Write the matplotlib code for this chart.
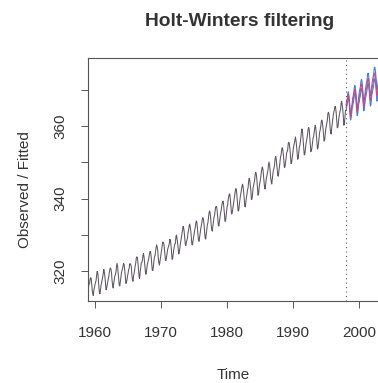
import numpy as np
import matplotlib
matplotlib.use("Agg")
import matplotlib.pyplot as plt

# Monthly CO2 observations (ppm), Jan 1959 .. Dec 1997
observed = [
    315.42, 316.31, 316.50, 317.56, 318.13, 318.00, 316.39, 314.65, 313.68, 313.18, 314.66, 315.43,
    316.27, 316.81, 317.42, 318.87, 319.87, 319.43, 318.01, 315.74, 314.00, 313.68, 314.84, 316.03,
    316.73, 317.54, 318.38, 319.31, 320.42, 319.61, 318.42, 316.63, 314.83, 315.16, 315.94, 316.85,
    317.78, 318.40, 319.53, 320.42, 320.85, 320.45, 319.45, 317.25, 316.11, 315.27, 316.53, 317.53,
    318.58, 318.92, 319.70, 321.22, 322.08, 321.31, 319.58, 317.61, 316.05, 315.83, 316.91, 318.20,
    319.41, 320.07, 320.74, 321.40, 322.06, 321.73, 320.27, 318.54, 316.54, 316.71, 317.53, 318.55,
    319.27, 320.28, 320.73, 321.97, 322.00, 321.71, 321.05, 318.71, 317.66, 317.14, 318.70, 319.25,
    320.46, 321.43, 322.23, 323.54, 323.91, 323.59, 322.24, 320.20, 318.48, 317.94, 319.63, 320.87,
    322.17, 322.34, 322.88, 324.25, 324.83, 323.93, 322.38, 320.76, 319.10, 319.24, 320.56, 321.80,
    322.40, 322.99, 323.73, 324.86, 325.40, 325.20, 323.98, 321.95, 320.18, 320.09, 321.16, 322.74,
    323.83, 324.26, 325.47, 326.50, 327.21, 326.54, 325.72, 323.50, 322.22, 321.62, 322.69, 323.95,
    324.89, 325.82, 326.77, 327.97, 327.91, 327.50, 326.18, 324.53, 322.93, 322.90, 323.85, 324.96,
    326.01, 326.51, 327.01, 327.62, 328.76, 328.40, 327.20, 325.27, 323.20, 323.40, 324.63, 325.85,
    326.60, 327.47, 327.58, 329.56, 329.90, 328.92, 327.88, 326.16, 324.68, 325.04, 326.34, 327.39,
    328.37, 329.40, 330.14, 331.33, 332.31, 331.90, 330.70, 329.15, 327.35, 327.02, 327.99, 328.48,
    329.18, 330.55, 331.32, 332.48, 332.92, 332.08, 331.01, 329.23, 327.27, 327.21, 328.29, 329.41,
    330.23, 331.25, 331.87, 333.14, 333.80, 333.43, 331.73, 329.90, 328.40, 328.17, 329.32, 330.59,
    331.58, 332.39, 333.33, 334.41, 334.71, 334.17, 332.89, 330.77, 329.14, 328.78, 330.14, 331.52,
    332.75, 333.24, 334.53, 335.90, 336.57, 336.10, 334.76, 332.59, 331.42, 330.98, 332.24, 333.68,
    334.80, 335.22, 336.47, 337.59, 337.84, 337.72, 336.37, 334.51, 332.60, 332.38, 333.75, 334.78,
    336.05, 336.59, 337.79, 338.71, 339.30, 339.12, 337.56, 335.92, 333.75, 333.70, 335.12, 336.56,
    337.84, 338.19, 339.91, 340.60, 341.29, 341.00, 339.39, 337.43, 335.72, 335.84, 336.93, 338.04,
    339.06, 340.30, 341.21, 342.33, 342.74, 342.08, 340.32, 338.26, 336.52, 336.68, 338.19, 339.44,
    340.57, 341.44, 342.53, 343.39, 343.96, 343.18, 341.88, 339.65, 337.81, 337.69, 339.09, 340.32,
    341.20, 342.35, 342.93, 344.77, 345.58, 345.14, 343.81, 342.21, 339.69, 339.82, 340.98, 342.82,
    343.52, 344.33, 345.11, 346.88, 347.25, 346.62, 345.22, 343.11, 340.90, 341.18, 342.80, 344.04,
    344.79, 345.82, 347.25, 348.17, 348.74, 348.07, 346.38, 344.51, 342.92, 342.62, 344.06, 345.38,
    346.11, 346.78, 347.68, 349.37, 350.03, 349.37, 347.76, 345.73, 344.68, 343.99, 345.48, 346.72,
    347.84, 348.29, 349.23, 350.80, 351.66, 351.07, 349.33, 347.92, 346.27, 346.18, 347.64, 348.78,
    350.25, 351.54, 352.05, 353.41, 354.04, 353.62, 352.22, 350.27, 348.55, 348.72, 349.91, 351.18,
    352.60, 352.92, 353.53, 355.26, 355.52, 354.97, 353.75, 351.52, 349.64, 349.83, 351.14, 352.37,
    353.50, 354.55, 355.23, 356.04, 357.00, 356.07, 354.67, 352.76, 350.82, 351.04, 352.69, 354.07,
    354.59, 355.63, 357.03, 358.48, 359.22, 358.12, 356.06, 353.92, 352.05, 352.11, 353.64, 354.89,
    355.88, 356.63, 357.72, 359.07, 359.58, 359.17, 356.94, 354.92, 352.94, 353.23, 354.09, 355.33,
    356.63, 357.10, 358.32, 359.41, 360.23, 359.55, 357.53, 355.48, 353.67, 353.95, 355.30, 356.78,
    358.34, 358.89, 359.95, 361.25, 361.67, 360.94, 359.55, 357.49, 355.84, 356.00, 357.59, 359.05,
    359.98, 361.03, 361.66, 363.48, 363.82, 363.30, 361.94, 359.50, 358.11, 357.80, 359.61, 360.74,
    362.09, 363.29, 364.06, 364.76, 365.45, 365.01, 363.70, 361.54, 359.51, 359.65, 360.80, 362.38,
    363.23, 364.06, 364.61, 366.40, 366.84, 365.68, 364.52, 362.57, 360.24, 360.83, 362.49, 364.34,
]
obs_start = 1959.0

# Predicted values and interval bounds, Jan 1998 .. Dec 2002
predicted = [
    365.10, 365.97, 366.73, 368.14, 368.66, 367.95, 366.53, 364.38, 362.47, 362.75, 364.22, 365.68,
    366.60, 367.47, 368.23, 369.64, 370.16, 369.45, 368.03, 365.88, 363.97, 364.25, 365.72, 367.18,
    368.10, 368.97, 369.73, 371.14, 371.66, 370.95, 369.53, 367.38, 365.47, 365.75, 367.22, 368.68,
    369.60, 370.47, 371.23, 372.64, 373.16, 372.45, 371.03, 368.88, 366.97, 367.25, 368.72, 370.18,
    371.10, 371.97, 372.73, 374.14, 374.66, 373.95, 372.53, 370.38, 368.47, 368.75, 370.22, 371.68,
]
upper = [
    365.90, 366.77, 367.53, 368.94, 369.46, 368.75, 367.33, 365.18, 363.27, 363.55, 365.02, 366.48,
    367.65, 368.52, 369.28, 370.69, 371.21, 370.50, 369.08, 366.93, 365.02, 365.30, 366.77, 368.23,
    369.35, 370.22, 370.98, 372.39, 372.91, 372.20, 370.78, 368.63, 366.72, 367.00, 368.47, 369.93,
    371.05, 371.92, 372.68, 374.09, 374.61, 373.90, 372.48, 370.33, 368.42, 368.70, 370.17, 371.63,
    372.70, 373.57, 374.33, 375.74, 376.26, 375.55, 374.13, 371.98, 370.07, 370.35, 371.82, 373.28,
]
lower = [
    364.30, 365.17, 365.93, 367.34, 367.86, 367.15, 365.73, 363.58, 361.67, 361.95, 363.42, 364.88,
    365.55, 366.42, 367.18, 368.59, 369.11, 368.40, 366.98, 364.83, 362.92, 363.20, 364.67, 366.13,
    366.85, 367.72, 368.48, 369.89, 370.41, 369.70, 368.28, 366.13, 364.22, 364.50, 365.97, 367.43,
    368.15, 369.02, 369.78, 371.19, 371.71, 371.00, 369.58, 367.43, 365.52, 365.80, 367.27, 368.73,
    369.50, 370.37, 371.13, 372.54, 373.06, 372.35, 370.93, 368.78, 366.87, 367.15, 368.62, 370.08,
]
pred_start = 1998.0
end_of_data = 1997.917

x_ticks = [1960, 1970, 1980, 1990, 2000]
y_ticks = [320, 330, 340, 350, 360, 370]
y_labels = ["320", "", "340", "", "360", ""]

plt.rcParams["font.family"] = ["Liberation Sans", "DejaVu Sans"]

fig = plt.figure(figsize=(3.78, 3.83), dpi=100)
ax = fig.add_axes([0.2328, 0.2141, 0.7672, 0.6345])

t_obs = obs_start + np.arange(len(observed)) / 12
t_pred = pred_start + np.arange(len(predicted)) / 12

ax.plot(t_obs, observed, color="#5e5560", lw=0.75)
ax.plot(t_pred, upper, color="#3a7fd6", lw=0.75)
ax.plot(t_pred, lower, color="#3a7fd6", lw=0.75)
ax.plot(t_pred, predicted, color="#d8437c", lw=0.75)
ax.axvline(end_of_data, color="#555555", lw=0.8, ls=(0, (1, 3)))

ax.set_xlim(1958.94, 2002.83)
ax.set_ylim(311.7, 378.8)

ax.set_xticks(x_ticks)
ax.set_xticklabels([str(v) for v in x_ticks])
ax.set_yticks(y_ticks)
ax.set_yticklabels(y_labels, rotation=90, va="center")
ax.tick_params(axis="both", length=5, width=0.7, color="#555555",
               labelsize=11, labelcolor="#333333")
ax.tick_params(axis="x", pad=13)
ax.tick_params(axis="y", pad=10)

for side in ["left", "top", "bottom"]:
    ax.spines[side].set_color("#555555")
    ax.spines[side].set_linewidth(0.8)
ax.spines["right"].set_visible(False)

fig.text(0.635, 0.945, "Holt-Winters filtering", ha="center", va="center",
         fontsize=13.8, fontweight="bold", color="#333333")
fig.text(0.616, 0.021, "Time", ha="center", va="center", fontsize=11, color="#333333")
fig.text(0.066, 0.504, "Observed / Fitted", ha="center", va="center", rotation=90,
         fontsize=11, color="#333333")

fig.savefig("out.png", dpi=100)
